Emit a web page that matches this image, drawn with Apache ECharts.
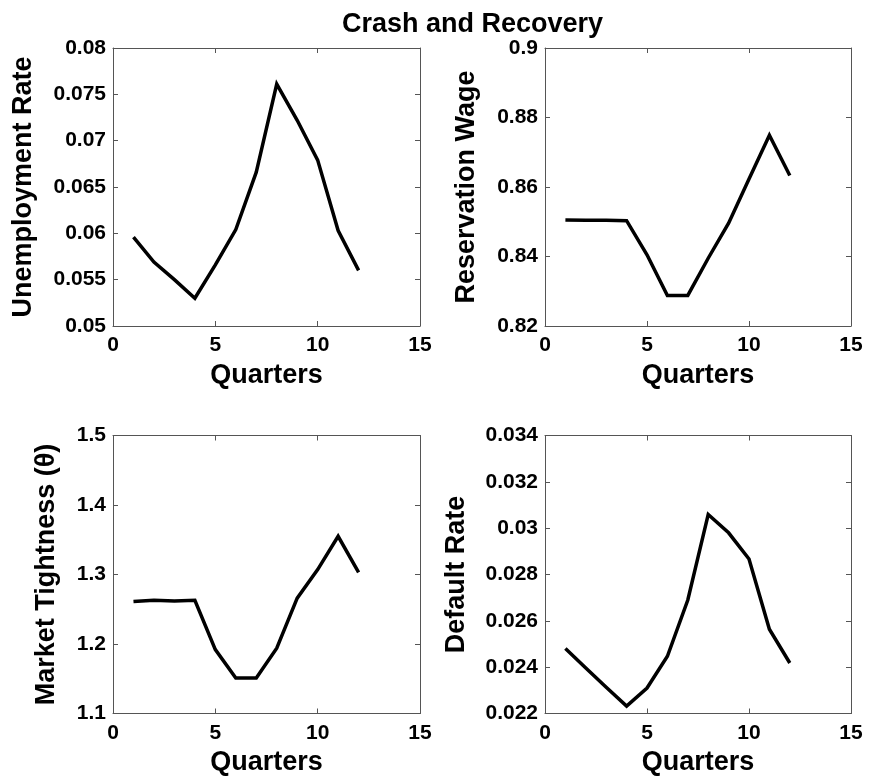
<!DOCTYPE html>
<html>
<head>
<meta charset="utf-8">
<script src="https://cdn.jsdelivr.net/npm/echarts@6/dist/echarts.min.js"></script>
<style>
  html, body { margin: 0; padding: 0; background: #fff; }
  #chart { width: 870px; height: 781px; }
</style>
</head>
<body>
<div id="chart"></div>
<script>
// ---- data ----
const quarters = [1, 2, 3, 4, 5, 6, 7, 8, 9, 10, 11, 12];
const unemploymentRate = [0.0596, 0.0569, 0.0550, 0.0530, 0.0566, 0.0604, 0.0666, 0.0761, 0.0722, 0.0679, 0.0603, 0.0560];
const reservationWage = [0.8505, 0.8504, 0.8504, 0.8503, 0.8405, 0.8288, 0.8288, 0.8395, 0.8496, 0.8623, 0.8749, 0.8633];
const marketTightness = [1.261, 1.263, 1.262, 1.263, 1.192, 1.151, 1.151, 1.194, 1.266, 1.307, 1.355, 1.303];
const defaultRate = [0.02481, 0.02396, 0.02313, 0.02232, 0.02310, 0.02447, 0.02690, 0.03059, 0.02980, 0.02867, 0.02564, 0.02418];

// tick values
const xTicks = [0, 5, 10, 15];
const unempTicks = [0.05, 0.055, 0.06, 0.065, 0.07, 0.075, 0.08];
const wageTicks = [0.82, 0.84, 0.86, 0.88, 0.9];
const thetaTicks = [1.1, 1.2, 1.3, 1.4, 1.5];
const defaultTicks = [0.022, 0.024, 0.026, 0.028, 0.03, 0.032, 0.034];

const titleText = 'Crash and Recovery';
const xName = 'Quarters';
const yNames = ['Unemployment Rate', 'Reservation Wage', 'Market Tightness (\u03b8)', 'Default Rate'];
const seriesData = [unemploymentRate, reservationWage, marketTightness, defaultRate];
const yTickSets = [unempTicks, wageTicks, thetaTicks, defaultTicks];

// ---- layout ----
const FONT = 'Liberation Sans, Arial, Helvetica, sans-serif';
const grids = [
  { left: 113, top: 48, width: 307, height: 278 },
  { left: 545, top: 48, width: 306, height: 278 },
  { left: 113, top: 435.5, width: 307, height: 278 },
  { left: 545, top: 435.5, width: 306, height: 278 }
];
const yNameGaps = [76, 65, 53, 75];
const boxColor = '#555';
const tickFont = 21;
const nameFont = 27;

const xAxes = [], yAxes = [], series = [];
grids.forEach((g, i) => {
  const xMin = xTicks[0], xMax = xTicks[xTicks.length - 1];
  const xInt = xTicks[1] - xTicks[0];
  const yt = yTickSets[i];
  const yMin = yt[0], yMax = yt[yt.length - 1];
  const yInt = +(yt[1] - yt[0]).toFixed(6);
  xAxes.push({
    type: 'value', gridIndex: i, position: 'bottom', min: xMin, max: xMax, interval: xInt,
    axisLine: { show: true, onZero: false, lineStyle: { color: boxColor, width: 1 } },
    axisTick: { show: true, inside: true, length: 5, lineStyle: { color: boxColor } },
    axisLabel: { show: true, margin: 9, color: '#000', fontFamily: FONT, fontWeight: 'bold', fontSize: tickFont },
    splitLine: { show: false },
    name: xName, nameLocation: 'middle', nameGap: 36,
    nameTextStyle: { color: '#000', fontFamily: FONT, fontWeight: 'bold', fontSize: nameFont }
  });
  xAxes.push({
    type: 'value', gridIndex: i, position: 'top', min: xMin, max: xMax, interval: xInt,
    axisLine: { show: true, onZero: false, lineStyle: { color: boxColor, width: 1 } },
    axisTick: { show: true, inside: true, length: 5, lineStyle: { color: boxColor } },
    axisLabel: { show: false }, splitLine: { show: false }
  });
  yAxes.push({
    type: 'value', gridIndex: i, position: 'left', min: yMin, max: yMax, interval: yInt,
    axisLine: { show: true, onZero: false, lineStyle: { color: boxColor, width: 1 } },
    axisTick: { show: true, inside: true, length: 5, lineStyle: { color: boxColor } },
    axisLabel: { show: true, margin: 7, color: '#000', fontFamily: FONT, fontWeight: 'bold', fontSize: tickFont },
    splitLine: { show: false },
    name: yNames[i], nameLocation: 'middle', nameGap: yNameGaps[i],
    nameTextStyle: { color: '#000', fontFamily: FONT, fontWeight: 'bold', fontSize: nameFont }
  });
  yAxes.push({
    type: 'value', gridIndex: i, position: 'right', min: yMin, max: yMax, interval: yInt,
    axisLine: { show: true, onZero: false, lineStyle: { color: boxColor, width: 1 } },
    axisTick: { show: true, inside: true, length: 5, lineStyle: { color: boxColor } },
    axisLabel: { show: false }, splitLine: { show: false }
  });
  series.push({
    type: 'line', xAxisIndex: i * 2, yAxisIndex: i * 2,
    data: quarters.map((q, k) => [q, seriesData[i][k]]),
    showSymbol: false, symbol: 'none', smooth: false,
    lineStyle: { color: '#000', width: 3.5, join: 'miter' },
    itemStyle: { color: '#000' },
    animation: false
  });
});

const chart = echarts.init(document.getElementById('chart'), null, { renderer: 'canvas' });
chart.setOption({
  backgroundColor: '#fff',
  animation: false,
  title: {
    text: titleText, left: 337, top: 6,
    textStyle: { color: '#000', fontFamily: FONT, fontWeight: 'bold', fontSize: nameFont }
  },
  grid: grids.map(g => Object.assign({ containLabel: false, show: false }, g)),
  xAxis: xAxes,
  yAxis: yAxes,
  series: series
});
</script>
</body>
</html>
